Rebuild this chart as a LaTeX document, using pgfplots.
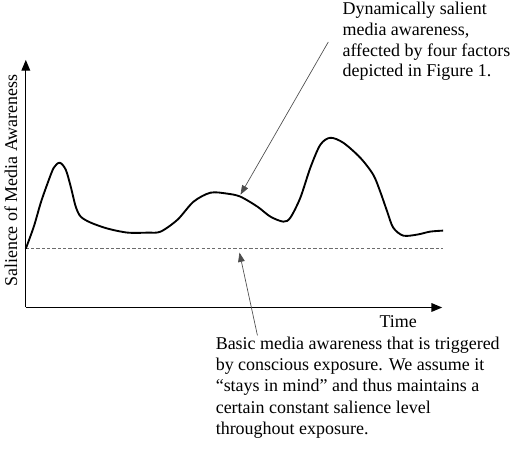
\documentclass[border=0pt]{standalone}
\usepackage{fontspec}
\setmainfont{Liberation Serif}
\usepackage{pgfplots}
\pgfplotsset{compat=1.18}
\usetikzlibrary{arrows.meta}

\begin{document}
\begin{tikzpicture}
  \begin{axis}[
    x=0.75pt, y=0.75pt,
    xmin=0, xmax=417, ymin=0, ymax=248,
    enlargelimits=false,
    axis lines=left,
    axis line style={line width=0.8pt, -{Triangle[length=8pt,width=6.5pt]}},
    xtick=\empty, ytick=\empty,
    clip=false,
  ]
  % invisible frame for the page size (512 x 455 px)
  \path (axis cs:-25,-147) rectangle (axis cs:487,308);

  % basic awareness level
  \addplot[gray!85!black, line width=0.6pt, dash pattern=on 2.4pt off 1.6pt]
    coordinates {(0,59) (418,59)};

  % dynamically salient awareness
  \addplot[smooth, tension=0.5, line width=1.4pt, black] coordinates {
    (0,59) (8,81) (15,105) (22,125) (28,140) (34,145) (40,138) (45,121)
    (50,101) (55,91) (65,85) (82,79) (102,75) (122,75) (135,76) (152,88)
    (168,106) (185,115) (202,114) (215,111) (232,101) (245,91) (258,86)
    (265,90) (275,110) (285,140) (295,163) (305,170) (318,165) (335,150)
    (348,133) (355,116) (362,96) (368,80) (378,72) (392,73) (405,76) (418,77)
  };

  \node[rotate=90, font=\fontsize{13.5}{15.5}\selectfont] at (axis cs:-15,127)
    {Salience of Media Awareness};
  \node[font=\fontsize{13.5}{15.5}\selectfont] at (axis cs:373,-14) {Time};

  \node[anchor=north west, inner sep=0pt, align=left,
        font=\fontsize{13.5}{15.5}\selectfont] at (axis cs:317,306)
    {Dynamically salient\\media awareness,\\affected by four factors\\depicted in Figure 1.};
  \node[anchor=north west, inner sep=0pt, align=left,
        font=\fontsize{13.5}{16}\selectfont] at (axis cs:190,-29)
    {Basic media awareness that is triggered\\by conscious exposure. We assume it\\``stays in mind'' and thus maintains a\\certain constant salience level\\throughout exposure.};

  \draw[gray!60!black, line width=0.5pt, -{Triangle[length=7pt,width=5pt]}]
    (axis cs:303,266) -- (axis cs:215,113);
  \draw[gray!60!black, line width=0.5pt, -{Triangle[length=7pt,width=5pt]}]
    (axis cs:232,-28) -- (axis cs:214,55);
  \end{axis}
\end{tikzpicture}
\end{document}
